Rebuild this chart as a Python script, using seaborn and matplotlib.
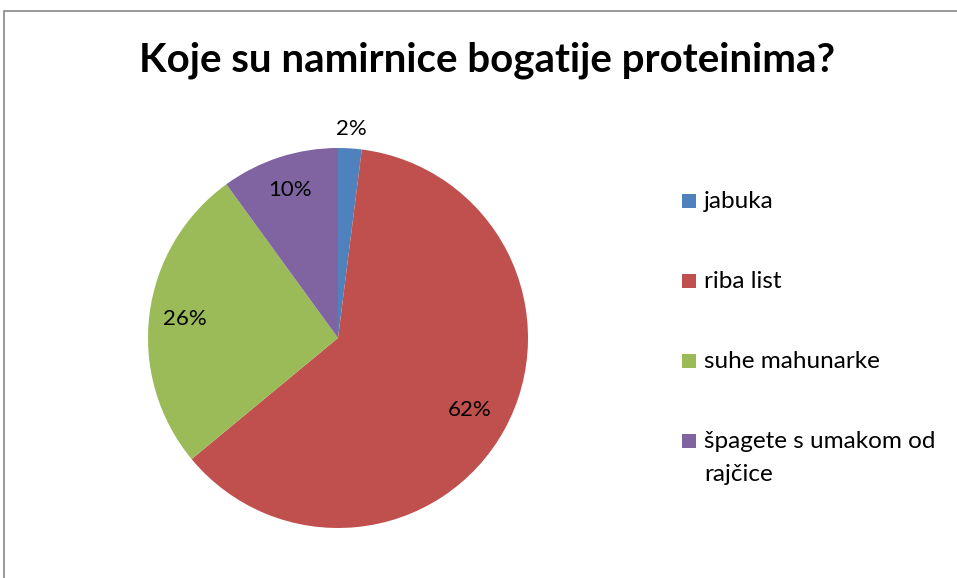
import matplotlib
matplotlib.use("Agg")
import matplotlib.pyplot as plt
import numpy as np
import seaborn as sns
from matplotlib.patches import Rectangle

categories = ["jabuka", "riba list", "suhe mahunarke", "špagete s umakom od\nrajčice"]
shares = [2, 62, 26, 10]
label_radius = [1.1, 0.79, 0.81, 0.82]
colors = ["#4F81BD", "#C0504D", "#9BBB59", "#8064A2"]

sns.set_theme(style="white")
plt.rcParams["font.family"] = ["Lato", "DejaVu Sans"]

W, H = 957, 578
fig = plt.figure(figsize=(W / 100, H / 100), dpi=100)
fig.patch.set_facecolor("white")


def px(x, y):
    """Pixel position (from top-left) to figure fraction."""
    return x / W, 1 - y / H


# outer chart frame (right and bottom edges run past the canvas)
fig.add_artist(Rectangle((4 / W, -0.1), 1.2, (H - 11) / H + 0.1, transform=fig.transFigure,
                         fill=False, edgecolor="#868686", linewidth=1.2))

cx, cy, r = 338, 338, 190
ax = fig.add_axes([(cx - r) / W, (H - cy - r) / H, 2 * r / W, 2 * r / H])
palette = sns.color_palette(colors)
wedges, _ = ax.pie(shares, colors=palette, startangle=90, counterclock=False,
                   radius=1, wedgeprops=dict(linewidth=0))
ax.set_xlim(-1, 1)
ax.set_ylim(-1, 1)
ax.set_aspect("equal")
ax.axis("off")

for w, v, rr in zip(wedges, shares, label_radius):
    mid = np.deg2rad((w.theta1 + w.theta2) / 2)
    ax.text(rr * np.cos(mid), rr * np.sin(mid), f"{v}%", ha="center", va="center",
            fontsize=16, color="#000000", clip_on=False)

fig.text(*px(487, 60), "Koje su namirnice bogatije proteinima?", ha="center", va="center",
         fontsize=29, fontweight="bold", color="#000000")

# legend: colour key square + label, one row every 80 px, wrapped lines 33 px apart
sq = 14
for i, (c, lab) in enumerate(zip(palette, categories)):
    base = 208 + 80 * i
    fig.add_artist(Rectangle(px(682, base), sq / W, sq / H, transform=fig.transFigure,
                             facecolor=c, edgecolor="none"))
    for j, line in enumerate(lab.split("\n")):
        fig.text(*px(704, base + 33 * j), line, ha="left", va="baseline",
                 fontsize=17.5, color="#000000")

fig.savefig("out.png", dpi=100, facecolor="white")
